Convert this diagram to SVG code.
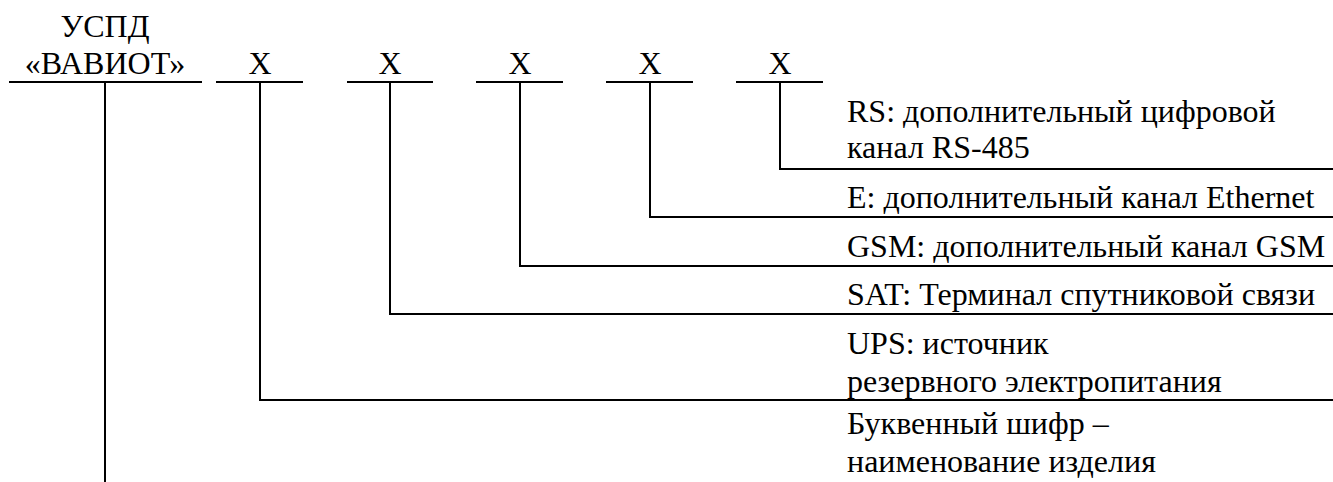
<svg xmlns="http://www.w3.org/2000/svg" width="1333" height="482" viewBox="0 0 1333 482">
<style>
.ln{stroke:#000;stroke-width:2;fill:none}
text{font-family:'Liberation Serif','Times New Roman',serif;fill:#000;font-size:32px}
.top{text-anchor:middle}
</style>
<rect width="1333" height="482" fill="#fff"/>
<g id="node-name">
<text class="top" x="105" y="37">УСПД</text>
<text class="top" x="105" y="74">«ВАВИОТ»</text>
<line class="ln" x1="9" y1="82" x2="202" y2="82"/>
</g>
<g id="node-x1"><text class="top" x="260" y="74">X</text><line class="ln" x1="216" y1="82" x2="303" y2="82"/></g>
<g id="node-x2"><text class="top" x="390" y="74">X</text><line class="ln" x1="347" y1="82" x2="433" y2="82"/></g>
<g id="node-x3"><text class="top" x="520" y="74">X</text><line class="ln" x1="476" y1="82" x2="563" y2="82"/></g>
<g id="node-x4"><text class="top" x="650" y="74">X</text><line class="ln" x1="606" y1="82" x2="693" y2="82"/></g>
<g id="node-x5"><text class="top" x="780" y="74">X</text><line class="ln" x1="736" y1="82" x2="823" y2="82"/></g>
<g id="connectors">
<polyline class="ln" points="780,82 780,169 1333,169"/>
<polyline class="ln" points="650,82 650,217 1333,217"/>
<polyline class="ln" points="520,82 520,266 1333,266"/>
<polyline class="ln" points="390,82 390,314 1333,314"/>
<polyline class="ln" points="260,82 260,400 1333,400"/>
<line class="ln" x1="105" y1="82" x2="105" y2="482"/>
</g>
<g id="label-rs"><text x="847" y="122">RS: дополнительный цифровой</text><text x="847" y="158">канал RS-485</text></g>
<g id="label-e"><text x="847" y="208">E: дополнительный канал Ethernet</text></g>
<g id="label-gsm"><text x="847" y="257">GSM: дополнительный канал GSM</text></g>
<g id="label-sat"><text x="847" y="305">SAT: Терминал спутниковой связи</text></g>
<g id="label-ups"><text x="847" y="354">UPS: источник</text><text x="847" y="392">резервного электропитания</text></g>
<g id="label-name"><text x="847" y="434">Буквенный шифр –</text><text x="847" y="472">наименование изделия</text></g>
</svg>
